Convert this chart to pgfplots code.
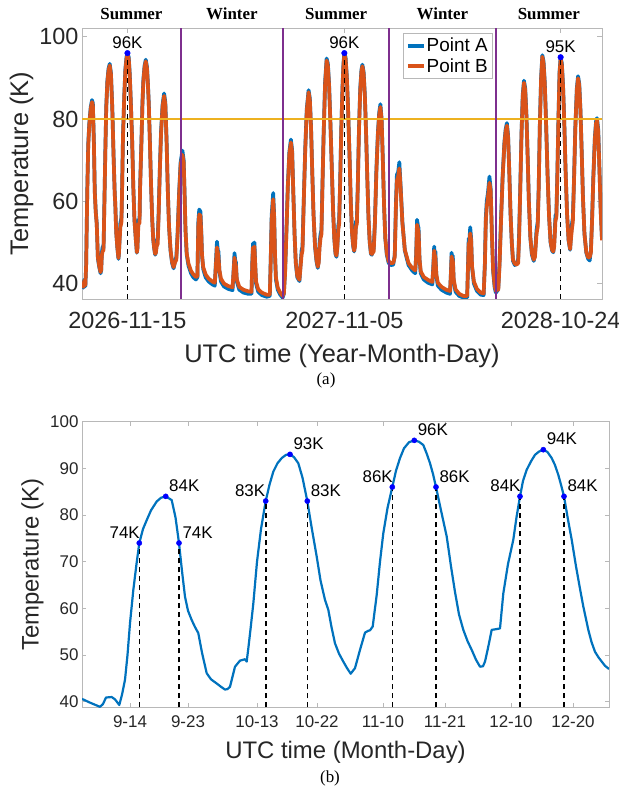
\documentclass[border=0pt]{standalone}
\usepackage{pgfplots}
\usepackage{pgfplotstable}
\usepackage{fontspec}
\setmainfont{Liberation Sans}
\newfontfamily\timesfont{Liberation Serif}
\pgfplotsset{compat=1.18}
\definecolor{cA}{rgb}{0,0.447,0.741}
\definecolor{cB}{rgb}{0.85,0.325,0.098}
\definecolor{cY}{rgb}{0.929,0.694,0.125}
\definecolor{cP}{rgb}{0.494,0.184,0.556}
\definecolor{axgray}{gray}{0.72}
\definecolor{txgray}{gray}{0.15}

\pgfplotstableread{
d A B
-74.4 40.4 40.0
-72 39.0 39.2
-71 40.6 40.4
-70.3 41.0 40.8
-69.5 40.6 40.5
-68.9 39.3 39.6
-67.6 44.7 44.5
-66.4 56.8 56.3
-65.6 63.9 63.5
-64.2 73.9 73.5
-62.5 78.9 78.5
-60.1 82.9 82.5
-58 84.6 84.1
-56.6 83.8 83.3
-54.9 74.2 73.8
-53.5 62.5 62.2
-51.9 57.5 57.3
-50.3 54.7 54.5
-48.4 46.1 46.3
-46 43.9 44.1
-44 42.5 42.8
-43 43.2 43.4
-41.9 47.5 46.8
-40.8 48.8 47.8
-39.6 49.1 48.0
-39.2 48.6 48.2
-38.8 51.4 50.8
-37.6 61.0 60.5
-36.2 72.5 72.0
-34.7 83.1 82.7
-32.9 89.3 88.9
-31 92.2 91.8
-29 93.4 93.0
-27 91.1 90.8
-24.9 83.1 82.8
-22.7 71.1 70.8
-20.8 61.8 61.6
-20 59.7 59.5
-18.4 52.5 52.4
-16.5 48.6 48.7
-14.7 46.0 46.2
-14 47.2 47.3
-12.8 51.1 50.5
-11.6 54.8 53.8
-10.8 55.2 54.2
-9.8 56.1 55.0
-8.8 62.9 62.4
-7.3 76.1 75.7
-5.2 85.9 85.5
-3.4 92.2 91.8
-1.6 95.0 94.6
0 96.1 95.7
2.1 95.0 94.6
3.7 91.1 90.8
5.1 85.9 85.6
7.6 75.4 75.1
9.6 63.5 63.3
11.5 55.4 55.3
13.5 51.1 51.1
15.4 47.5 47.6
16.3 48.6 48.5
17.9 55.4 54.3
18.6 55.5 54.5
19.8 55.7 54.8
20.6 63.2 62.8
22.9 74.7 74.3
24.5 83.9 83.5
26.1 89.7 89.3
28 92.9 92.5
30 94.4 94.0
32 92.6 92.2
33.5 88.6 88.3
34.9 83.9 83.6
36.7 74.7 74.5
38.6 64.2 64.0
39.4 60.4 60.3
40.6 55.4 55.3
42.2 50.7 50.7
43.7 48.6 48.7
45.3 47.0 47.2
46.5 47.6 47.5
48 50.5 49.2
49.5 50.8 49.6
51 57.0 56.5
53 68.0 67.5
55 77.0 76.5
57.5 83.5 83.0
60 86.2 85.6
62 84.0 83.5
64 75.0 74.7
66 63.0 62.8
68 54.0 54.0
70.5 48.0 48.2
73 45.0 45.3
75.5 43.7 44.0
78 45.5 45.2
80 46.5 45.8
82 52.0 51.5
84.5 62.0 61.5
87 69.5 68.8
90 72.3 71.3
92 70.0 69.5
93.5 62.0 61.7
95 53.0 53.0
97 47.0 47.3
100 44.3 44.8
104 42.5 43.1
108 41.5 42.2
112 41.0 41.6
114.5 41.5 41.8
116 55.0 54.0
117.5 58.0 56.8
119.5 57.5 56.5
121 52.0 51.5
122 47.0 47.0
124 43.5 44.0
128 41.5 42.2
133 40.5 41.2
139 39.8 40.5
143 39.5 40.2
145 46.0 45.0
146.5 50.2 48.8
148 48.0 47.5
149 47.8 46.3
150.5 43.0 43.3
153 40.5 41.2
158 39.3 40.0
165 38.7 39.4
172 38.4 39.1
174 44.0 43.5
175.2 47.4 46.3
176.5 45.5 45.0
177.5 45.2 44.3
179 40.5 41.0
183 38.5 39.2
190 37.8 38.5
198 37.5 38.1
203 37.5 38.0
204.5 46.0 45.5
205.5 49.8 48.8
206.8 48.5 48.0
207.8 50.0 49.0
209 45.0 45.0
210.5 40.0 40.5
214 38.0 38.6
220 37.2 37.8
228 36.8 37.3
233 37.0 37.3
234.5 46.0 45.5
236 56.5 55.5
238.5 62.0 60.5
240 57.0 56.5
241.5 47.0 47.0
243 41.0 41.5
246 38.5 39.0
250 37.3 37.8
254 36.6 37.0
256 37.5 37.6
258 43.0 42.5
260 52.0 51.5
262.5 64.0 63.5
265 72.0 71.5
267.5 75.0 74.3
269.5 72.5 72.0
271.5 62.0 61.8
273.5 52.0 52.0
275.5 45.0 45.2
278 41.5 41.8
281.5 40.6 40.9
283 44.0 43.5
285 48.0 47.0
286.5 49.0 48.0
288.5 60.0 59.5
291 73.0 72.5
293.5 82.5 82.0
296.5 87.0 86.5
298.5 85.0 84.6
300.5 78.0 77.7
302.5 67.0 66.8
304.5 57.0 56.9
307 49.0 49.2
309.5 45.3 45.6
311.5 43.8 44.1
313 45.5 45.0
314.5 50.0 48.8
316 52.0 51.0
317.5 53.0 52.0
319 63.0 62.5
321 76.0 75.5
323.5 89.0 88.5
326 94.7 94.2
328 93.5 93.0
330 88.5 88.1
332 80.0 79.7
334.5 68.0 67.8
336.5 58.0 57.9
338.5 51.0 51.1
340.5 47.2 47.4
342 46.5 46.8
343.5 49.0 48.5
345 54.0 53.0
346.5 55.5 54.5
348 64.0 63.5
350 78.0 77.5
352 88.0 87.5
353.5 93.5 93.0
355 96.0 95.6
357 95.0 94.6
359 90.5 90.2
361 83.0 82.7
363.5 71.0 70.8
365.5 60.0 59.9
367.5 52.5 52.5
369.5 49.0 49.2
371 47.8 48.0
372.5 50.0 49.0
374 55.0 53.8
375.5 55.5 54.5
377 64.0 63.5
379 78.0 77.5
381 87.5 87.0
383 92.0 91.6
384.5 93.2 92.8
386.5 91.5 91.1
388.5 86.0 85.7
390.5 77.0 76.8
392.5 66.0 65.8
394.5 56.0 56.0
396.5 50.0 50.2
398.5 47.2 47.4
400 47.0 47.2
401.5 47.8 47.5
403 48.5 47.8
405 55.0 54.5
407.5 68.0 67.5
410 77.0 76.5
412 81.5 81.0
414 83.6 82.9
416 80.0 79.6
418 70.0 69.8
420 59.0 58.9
422 51.0 51.1
424.5 47.0 47.3
427.5 45.0 45.4
431 44.5 45.0
435 44.6 45.0
437.5 47.0 46.5
439.5 60.0 59.0
441 66.5 65.0
443 67.0 66.0
445 69.5 68.0
447 64.0 63.5
450 55.0 54.7
454 48.0 48.2
460 44.5 45.0
466 43.2 43.8
471 42.5 43.2
472.5 47.0 46.5
474 55.5 54.3
475.5 54.0 53.2
476.5 53.5 52.5
478 46.0 46.0
480 42.5 43.0
485 41.0 41.6
492 40.2 40.9
499 39.8 40.4
500.5 44.0 43.5
502 49.0 48.0
503 47.0 46.8
504 47.8 46.5
505.5 42.0 42.3
508 39.5 40.2
514 38.5 39.2
522 37.8 38.5
528 37.5 38.2
529.5 43.0 42.5
530.5 47.5 46.6
531.5 46.0 45.8
532.5 46.8 45.8
534 40.5 41.0
537 38.0 38.6
543 37.0 37.5
550 36.6 37.0
556 36.6 37.0
557.5 45.0 44.5
558.5 51.0 49.8
559.5 50.0 49.5
561 53.7 52.2
562.5 51.0 50.5
564 44.0 44.2
567 40.0 40.5
572 38.2 38.7
578 37.3 37.8
583 37.2 37.6
585 45.0 44.5
586.5 56.0 55.0
588 60.0 58.5
590 62.0 61.0
592.5 66.0 64.5
594.5 63.0 62.5
596.5 52.0 51.8
598.5 43.0 43.3
601 39.0 39.5
603 37.8 38.2
605 38.2 38.6
607 39.0 38.5
609 45.0 44.5
611.5 56.0 55.5
614 66.0 65.5
617 74.5 74.0
619 77.5 77.0
621 79.0 78.4
623 76.0 75.6
625 67.0 66.8
627 57.0 56.9
629 50.0 50.2
631 45.5 45.8
634 44.5 44.8
637 44.8 44.6
639.5 46.0 45.0
641 52.0 51.0
643 64.0 63.5
645 77.0 76.5
647 86.0 85.5
649 89.3 88.8
651 87.5 87.0
653 81.0 80.7
655 71.0 70.8
657 60.0 59.9
659.5 51.0 51.1
662 47.0 47.3
665 45.5 45.8
667 47.0 46.5
669.5 53.0 52.0
671.5 55.0 53.8
673 63.0 62.5
675 79.0 78.5
677 90.0 89.5
679 95.5 95.1
681 94.0 93.6
683 89.0 88.6
685 80.0 79.7
687.5 67.0 66.8
690 56.5 56.4
692.5 50.0 50.2
695 48.0 48.2
697 47.6 47.8
698.5 50.0 49.0
700.5 56.5 55.3
702 57.0 56.0
703.5 66.0 65.5
705.5 81.0 80.5
707.2 91.5 91.0
709 95.0 94.6
711 93.5 93.1
713 88.0 87.6
715 79.0 78.7
717 68.0 67.8
719.5 57.0 56.9
722 50.5 50.6
724.5 48.2 48.4
726 52.0 51.0
727.5 54.5 53.3
729 56.0 55.0
731 66.0 65.5
733 78.0 77.5
735.5 87.5 87.0
737.5 90.4 89.9
739.5 88.5 88.1
741.5 82.0 81.7
743.5 72.0 71.8
745.5 61.0 60.9
748 52.0 52.1
751 47.5 47.7
754 46.0 46.3
756.5 45.6 46.4
758.5 48.0 47.5
760.5 56.0 55.5
762.5 66.0 65.5
765 75.5 75.0
767 79.5 79.0
768.5 80.2 79.6
770.5 77.5 77.0
772.5 68.0 67.7
774.5 58.0 57.8
776.7 50.8 50.5
}\topdata

\pgfplotstableread{
x T
82 40.6
90 39.8
100 38.9
103 39.5
106 40.9
111.7 41.0
115 40.5
119.3 39.3
122 41.5
125 44.7
127.5 50
130 56.8
133.3 63.9
136.5 69.5
139.3 74
143 77
146.7 78.9
151 81
156.7 82.9
161 83.7
165.7 84
171.7 83.2
175.5 79.5
179 74
182 68
185 62.5
188 59.5
191.7 57.5
195 56
198.3 54.7
202 50.5
206.7 46.1
211 44.8
216.7 43.9
221 43.2
225 42.6
227.5 42.7
230 43.2
235 47.5
240 48.8
245 49.1
246.7 48.6
248.3 51.4
250.5 55.5
253.3 61
257 70
261 77
265.7 83
269.5 86.5
273.3 89.3
277.5 91.1
281.7 92.2
286 92.9
290 93
294 92.4
298.3 91.1
302.5 88
307.3 83
311.5 77.5
316.7 71.1
320.5 66
325 61.8
328.3 59.7
331.5 56
335 52.5
339 50.3
343.3 48.6
347 47.2
350.7 46.0
355 47.2
360 51.1
365 54.8
368.3 55.2
370 55.3
372.7 56.1
376.7 62.9
380 70
383.3 76.1
387.5 81.5
392.3 86
396 89.5
400 92.2
404 94.3
409 95.6
414.3 96
419 95.7
423.3 95.0
427 93
430 91.1
433 88.8
436 86
441 81
446.7 75.4
451 69
455 63.5
459 58.7
463.3 55.4
467.5 53
471.7 51.1
476 49
480 47.5
483 47.6
485 48.6
488 51.5
491.7 55.4
495 55.5
500 55.7
503.3 63.2
508 69.5
513.3 74.7
516.5 79.5
520 84
523 87.3
526.7 89.7
531 91.5
535 92.9
539 93.6
543.3 94
547.5 93.5
551.7 92.2
555 90.7
558.3 88.6
561 86.5
564 84
568 79
571.7 74.7
576 69
580 64.2
583.3 60.4
588.3 55.4
591.5 52.8
595 50.7
598.5 49.5
601.7 48.6
605 47.7
609 47.0
}\botdata

\begin{document}
\begin{tikzpicture}
\path[use as bounding box] (0,0) rectangle (619bp,795bp);

% ---------------- (a) ----------------
\begin{axis}[
  at={(82bp,496bp)}, anchor=south west, scale only axis,
  width=520bp, height=271bp,
  xmin=-74.4, xmax=776.7, ymin=36.26, ymax=102.1,
  xtick={0,355,709}, xticklabels={2026-11-15,2027-11-05,2028-10-24},
  ytick={40,60,80,100},
  tick align=inside, major tick length=5bp,
  axis line style={axgray, line width=0.8bp},
  every tick/.style={axgray, line width=0.8bp},
  tick label style={font=\fontsize{23.5}{27}\selectfont, text=txgray},
  /pgf/number format/assume math mode=true,
  xticklabel style={yshift=-10bp},
  label style={font=\fontsize{25.5}{30}\selectfont, text=txgray},
  xlabel={UTC time (Year-Month-Day)},
  xlabel style={at={(axis description cs:0.5,-0.2325)}, anchor=base},
  ylabel={Temperature (K)},
  ylabel style={at={(axis description cs:-0.1163,0.5)}, anchor=center},
  clip mode=individual,
  legend style={at={(0.617,0.98)}, anchor=north west, draw=axgray, fill=white,
    font=\fontsize{19}{22}\selectfont, inner xsep=3bp, inner ysep=2bp,
    nodes={inner xsep=1bp, inner ysep=2.5bp}},
  legend cell align=left,
  legend image code/.code={\draw[#1] (0bp,0bp) -- (16bp,0bp);},
]
\addplot[cA, line width=3.7bp, line join=round] table[x=d, y=A] {\topdata};
\addlegendentry{Point A}
\addplot[cB, line width=3.7bp, line join=round] table[x=d, y=B] {\topdata};
\addlegendentry{Point B}
\addplot[cY, line width=2.4bp, forget plot] coordinates {(-74.4,80) (776.7,80)};
\addplot[cP, line width=1.6bp, forget plot] coordinates {(87.5,36.26) (87.5,102.1)};
\addplot[cP, line width=1.6bp, forget plot] coordinates {(254.9,36.26) (254.9,102.1)};
\addplot[cP, line width=1.6bp, forget plot] coordinates {(428.3,36.26) (428.3,102.1)};
\addplot[cP, line width=1.6bp, forget plot] coordinates {(602.8,36.26) (602.8,102.1)};
\addplot[black, line width=1.6bp, dash pattern=on 5bp off 4bp, forget plot] coordinates {(0,36.26) (0,96)};
\addplot[black, line width=1.6bp, dash pattern=on 5bp off 4bp, forget plot] coordinates {(355,36.26) (355,96)};
\addplot[black, line width=1.6bp, dash pattern=on 5bp off 4bp, forget plot] coordinates {(709,36.26) (709,95)};
\addplot[only marks, mark=*, mark size=2.8bp, blue, forget plot] coordinates {(0,96) (355,96) (709,95)};
\node[font=\fontsize{17}{20}\selectfont, anchor=base, yshift=5bp] at (axis cs:0,96) {96K};
\node[font=\fontsize{17}{20}\selectfont, anchor=base, yshift=5bp] at (axis cs:355,96) {96K};
\node[font=\fontsize{17}{20}\selectfont, anchor=base, yshift=5bp] at (axis cs:709,95) {95K};
\node[font=\timesfont\bfseries\fontsize{17}{20}\selectfont, anchor=base, yshift=8bp] at (axis cs:6.5,102.1) {Summer};
\node[font=\timesfont\bfseries\fontsize{17}{20}\selectfont, anchor=base, yshift=8bp] at (axis cs:171,102.1) {Winter};
\node[font=\timesfont\bfseries\fontsize{17}{20}\selectfont, anchor=base, yshift=8bp] at (axis cs:341.6,102.1) {Summer};
\node[font=\timesfont\bfseries\fontsize{17}{20}\selectfont, anchor=base, yshift=8bp] at (axis cs:515.5,102.1) {Winter};
\node[font=\timesfont\bfseries\fontsize{17}{20}\selectfont, anchor=base, yshift=8bp] at (axis cs:689.7,102.1) {Summer};
\end{axis}

\node[font=\timesfont\fontsize{17}{20}\selectfont] at (326bp,415bp) {(a)};

% ---------------- (b) ----------------
\begin{axis}[
  at={(82bp,87.7bp)}, anchor=south west, scale only axis,
  width=527bp, height=285.6bp,
  xmin=82, xmax=609, ymin=38.8, ymax=100,
  xtick={130,188,257,317,383,445,511,573},
  xticklabels={9-14,9-23,10-13,10-22,11-10,11-21,12-10,12-20},
  ytick={40,50,60,70,80,90,100},
  tick align=inside, major tick length=4bp,
  axis line style={axgray, line width=0.8bp},
  every tick/.style={axgray, line width=0.8bp},
  tick label style={font=\fontsize{17}{20}\selectfont, text=txgray},
  /pgf/number format/assume math mode=true,
  xticklabel style={yshift=-5bp},
  label style={font=\fontsize{24}{28}\selectfont, text=txgray},
  xlabel={UTC time (Month-Day)},
  xlabel style={at={(axis description cs:0.5,-0.1786)}, anchor=base},
  ylabel={Temperature (K)},
  ylabel style={at={(axis description cs:-0.0939,0.5)}, anchor=center},
  clip mode=individual,
]
\addplot[cA, line width=2.2bp, line join=round] table[x=x, y=T] {\botdata};
\addplot[black, line width=1.6bp, dash pattern=on 5bp off 4bp] coordinates {(139.3,38.8) (139.3,74)};
\addplot[black, line width=1.6bp, dash pattern=on 5bp off 4bp] coordinates {(179,38.8) (179,74)};
\addplot[black, line width=1.6bp, dash pattern=on 5bp off 4bp] coordinates {(265.7,38.8) (265.7,83)};
\addplot[black, line width=1.6bp, dash pattern=on 5bp off 4bp] coordinates {(307.3,38.8) (307.3,83)};
\addplot[black, line width=1.6bp, dash pattern=on 5bp off 4bp] coordinates {(392.3,38.8) (392.3,86)};
\addplot[black, line width=1.6bp, dash pattern=on 5bp off 4bp] coordinates {(436,38.8) (436,86)};
\addplot[black, line width=1.6bp, dash pattern=on 5bp off 4bp] coordinates {(520,38.8) (520,84)};
\addplot[black, line width=1.6bp, dash pattern=on 5bp off 4bp] coordinates {(564,38.8) (564,84)};
\addplot[only marks, mark=*, mark size=2.6bp, blue] coordinates {
(139.3,74) (165.7,84) (179,74)
(265.7,83) (290,93) (307.3,83)
(392.3,86) (414.3,96) (436,86)
(520,84) (543.3,94) (564,84)};
\tikzset{lbl/.style={font=\fontsize{17}{20}\selectfont, yshift=5bp}}
\node[lbl, anchor=base east, xshift=4bp] at (axis cs:139.3,74) {74K};
\node[lbl, anchor=base west] at (axis cs:165.7,84) {84K};
\node[lbl, anchor=base west] at (axis cs:179,74) {74K};
\node[lbl, anchor=base east, xshift=3bp] at (axis cs:265.7,83) {83K};
\node[lbl, anchor=base west] at (axis cs:290,93) {93K};
\node[lbl, anchor=base west] at (axis cs:307.3,83) {83K};
\node[lbl, anchor=base east, xshift=4bp] at (axis cs:392.3,86) {86K};
\node[lbl, anchor=base west] at (axis cs:414.3,96) {96K};
\node[lbl, anchor=base west] at (axis cs:436,86) {86K};
\node[lbl, anchor=base east, xshift=4bp] at (axis cs:520,84) {84K};
\node[lbl, anchor=base west] at (axis cs:543.3,94) {94K};
\node[lbl, anchor=base west] at (axis cs:564,84) {84K};
\end{axis}

\node[font=\timesfont\fontsize{17}{20}\selectfont] at (330bp,17bp) {(b)};
\end{tikzpicture}
\end{document}
